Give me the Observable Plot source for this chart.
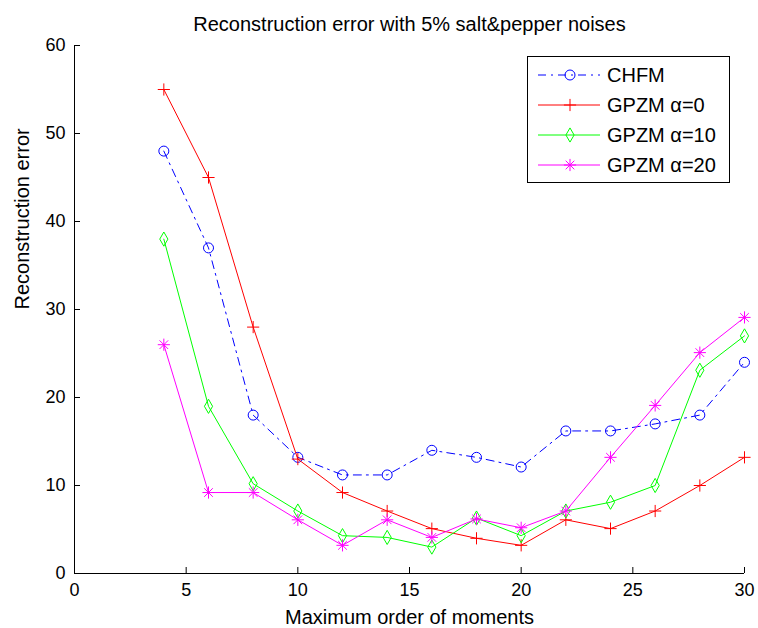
<!DOCTYPE html>
<html><head><meta charset="utf-8">
<script src="https://cdn.jsdelivr.net/npm/d3@7"></script>
<script src="https://cdn.jsdelivr.net/npm/@observablehq/plot@0.6"></script>
<style>
body{margin:0;background:#fff;font-family:"Liberation Sans",Arial,sans-serif;}
#wrap{position:relative;width:758px;height:628px;overflow:hidden;}
#legend{position:absolute;left:527px;top:56px;}
</style></head><body><div id="wrap"></div>
<script>
const orders = [4, 6, 8, 10, 12, 14, 16, 18, 20, 22, 24, 26, 28, 30];
const chfm   = [48, 37, 18, 13.2, 11.2, 11.2, 14, 13.2, 12.1, 16.2, 16.2, 17, 18, 24];
const gpzm0  = [55, 45, 28, 13, 9.2, 7.1, 5.1, 4, 3.2, 6.1, 5.1, 7.1, 10, 13.2];
const gpzm10 = [38, 19, 10.2, 7.1, 4.3, 4.1, 3, 6.3, 4.3, 7.1, 8.1, 10, 23.1, 27];
const gpzm20 = [26, 9.2, 9.2, 6.1, 3.2, 6.1, 4.1, 6.2, 5.2, 7.1, 13.2, 19.1, 25.1, 29.1];
const seriesNames = ["CHFM", "GPZM α=0", "GPZM α=10", "GPZM α=20"];
const seriesColors = ["#0000ff", "#ff0000", "#00ff00", "#ff00ff"];
const xTicks = [0, 5, 10, 15, 20, 25, 30];
const yTicks = [0, 10, 20, 30, 40, 50, 60];
const titleText = "Reconstruction error with 5% salt&pepper noises";
const xLabel = "Maximum order of moments";
const yLabel = "Reconstruction error";

const font = "'Liberation Sans', Arial, sans-serif";
const W = 758, H = 628, mL = 74, mR = 14, mT = 45, mB = 55;
const frameW = W - mL - mR, frameH = H - mT - mB, tickLen = 6;
const rows = vals => orders.map((x, i) => ({x, y: vals[i]}));
const data = [chfm, gpzm0, gpzm10, gpzm20].map(rows);
const dash = "8,5,2,5";

const chart = Plot.plot({
  width: W, height: H,
  marginLeft: mL, marginRight: mR, marginTop: mT, marginBottom: mB,
  style: {fontFamily: font, fontSize: "18px", color: "#000", background: "#fff", overflow: "visible"},
  x: {domain: [0, 30]},
  y: {domain: [0, 60]},
  marks: [
    Plot.ruleX([0], {stroke: "#000", strokeWidth: 1}),
    Plot.ruleY([0], {stroke: "#000", strokeWidth: 1}),
    Plot.tickX(xTicks, {x: d => d, insetTop: frameH - tickLen, stroke: "#000", strokeWidth: 1}),
    Plot.tickY(yTicks, {y: d => d, insetRight: frameW - tickLen, stroke: "#000", strokeWidth: 1}),
    Plot.axisX(xTicks, {tickSize: 0, tickPadding: 10, label: null, fontSize: 18}),
    Plot.axisY(yTicks, {tickSize: 0, tickPadding: 9, label: null, fontSize: 18}),
    Plot.text([titleText], {frameAnchor: "top", dy: -15, lineAnchor: "bottom", fontSize: 20, fill: "#000"}),
    Plot.text([xLabel], {frameAnchor: "bottom", dy: 50, lineAnchor: "bottom", fontSize: 20, fill: "#000"}),
    Plot.text([yLabel], {frameAnchor: "left", dx: -46, rotate: -90, lineAnchor: "bottom", fontSize: 20, fill: "#000"}),
    // CHFM
    Plot.line(data[0], {x: "x", y: "y", stroke: seriesColors[0], strokeWidth: 1, strokeDasharray: dash}),
    Plot.dot(data[0], {x: "x", y: "y", symbol: "circle", r: 5, stroke: seriesColors[0], fill: "none", strokeWidth: 1}),
    // GPZM a=0
    Plot.line(data[1], {x: "x", y: "y", stroke: seriesColors[1], strokeWidth: 1}),
    Plot.dot(data[1], {x: "x", y: "y", symbol: "plus", r: 4, stroke: seriesColors[1], strokeWidth: 1}),
    // GPZM a=10
    Plot.line(data[2], {x: "x", y: "y", stroke: seriesColors[2], strokeWidth: 1}),
    Plot.dot(data[2], {x: "x", y: "y", symbol: "diamond", r: 4.3, stroke: seriesColors[2], fill: "none", strokeWidth: 1}),
    // GPZM a=20
    Plot.line(data[3], {x: "x", y: "y", stroke: seriesColors[3], strokeWidth: 1}),
    Plot.dot(data[3], {x: "x", y: "y", symbol: "plus", r: 4, stroke: seriesColors[3], strokeWidth: 1}),
    Plot.dot(data[3], {x: "x", y: "y", symbol: "times", r: 4, stroke: seriesColors[3], strokeWidth: 1})
  ]
});
const wrap = document.getElementById("wrap");
wrap.appendChild(chart);

// Legend
const symbolsFor = [["circle"], ["plus"], ["diamond"], ["plus", "times"]];
const d3sym = {circle: d3.symbolCircle, plus: d3.symbolPlus, diamond: d3.symbolDiamond, times: d3.symbolTimes};
const symSize = {circle: Math.PI * 25, plus: Math.PI * 16, diamond: Math.PI * 4.3 * 4.3, times: Math.PI * 16};
const lw = 203, lh = 127;
let s = `<svg width="${lw}" height="${lh}" xmlns="http://www.w3.org/2000/svg" style="font-family:${font}">`;
s += `<rect x="0.5" y="0.5" width="${lw - 1}" height="${lh - 1}" fill="#fff" stroke="#000" stroke-width="1"/>`;
seriesNames.forEach((name, i) => {
  const cy = 19 + i * 30;
  const c = seriesColors[i];
  s += `<line x1="11" x2="73" y1="${cy}" y2="${cy}" stroke="${c}" stroke-width="1" ${i === 0 ? `stroke-dasharray="${dash}"` : ""}/>`;
  symbolsFor[i].forEach(k => {
    s += `<path transform="translate(43,${cy})" d="${d3.symbol(d3sym[k], symSize[k])()}" fill="none" stroke="${c}" stroke-width="1"/>`;
  });
  s += `<text x="80" y="${cy + 7}" font-size="20" fill="#000">${name}</text>`;
});
s += `</svg>`;
const leg = document.createElement("div");
leg.id = "legend";
leg.innerHTML = s;
wrap.appendChild(leg);
</script></body></html>
